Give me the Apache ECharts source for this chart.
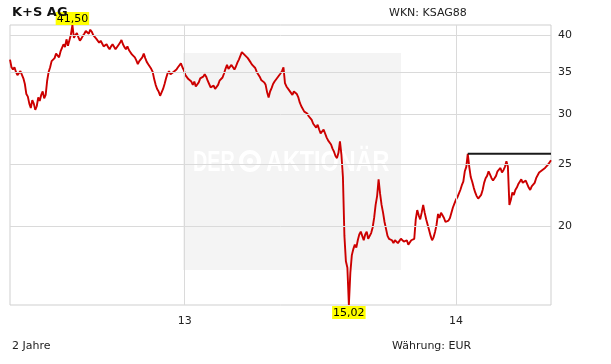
<!DOCTYPE html>
<html><head><meta charset="utf-8">
<script src="https://cdn.jsdelivr.net/npm/echarts@6/dist/echarts.min.js"></script>
<style>html,body{margin:0;padding:0;background:#fff}#c{width:611px;height:364px}</style>
</head><body><div id="c"></div>
<script>
const chartTitle = 'K+S AG';
const wknText = 'WKN: KSAG88';
const periodText = '2 Jahre';
const currencyText = 'Währung: EUR';
const startDate = [2012, 4, 11];
const stepDays = 2;
const prices = [
 36.6,35.6,35.3,35.6,35.0,34.6,34.7,35.1,34.9,34.2,33.5,32.3,32.0,31.2,30.7,31.6,31.2,30.5,30.9,31.9,
 31.5,32.2,32.6,31.8,32.2,33.9,35.0,35.6,36.4,36.2,36.8,37.4,37.2,36.9,37.7,38.2,38.7,38.3,39.4,38.5,
 38.7,40.1,41.5,39.6,40.0,40.3,39.7,39.2,39.5,39.9,40.2,40.6,40.8,40.2,40.8,40.5,40.0,39.8,39.5,39.3,
 38.9,39.2,38.8,38.4,38.5,38.7,38.3,38.0,38.4,38.7,38.5,38.0,38.0,38.6,38.9,39.3,38.7,38.3,38.0,38.4,
 37.9,37.6,37.3,37.5,36.9,36.5,36.0,36.4,36.6,36.9,37.4,36.8,36.3,36.0,35.7,35.4,35.0,34.1,33.4,32.9,
 32.6,32.1,32.2,32.9,33.5,34.2,34.8,35.1,34.7,34.9,35.0,34.8,35.3,35.6,35.8,36.1,35.6,35.2,34.6,34.4,
 34.1,34.3,33.8,33.4,33.8,33.2,33.0,33.7,34.2,34.0,34.4,34.7,34.4,33.9,33.5,33.1,32.9,33.3,32.9,33.1,
 33.4,33.9,33.8,34.3,34.8,35.4,35.9,35.4,35.6,35.9,35.7,35.3,35.7,36.2,36.6,37.1,37.6,37.8,37.2,37.3,
 36.8,36.5,36.2,35.9,35.7,35.5,35.0,34.8,34.4,34.0,33.9,33.7,33.4,32.5,31.9,32.6,33.0,33.5,33.8,33.9,
 34.3,34.5,34.8,35.1,35.6,33.6,33.2,33.0,32.7,32.5,32.2,32.6,32.7,32.3,31.9,31.3,30.9,30.7,30.3,30.4,
 30.1,29.8,29.6,29.4,29.0,28.8,28.6,28.9,28.4,28.0,27.9,28.4,28.2,27.6,27.3,27.2,26.9,26.5,26.2,25.8,
 25.6,26.1,27.2,25.9,23.9,19.3,17.6,17.2,15.02,16.9,18.0,18.4,18.7,18.5,19.0,19.4,19.6,19.3,19.0,19.4,
 19.6,19.1,19.0,19.5,19.9,20.6,21.6,22.3,23.7,22.5,21.6,21.0,20.3,19.8,19.3,19.1,19.0,19.0,18.8,19.0,
 19.1,18.8,18.9,19.1,19.0,18.9,18.8,19.0,18.7,18.8,19.0,18.9,19.1,20.5,21.2,20.8,20.5,21.0,21.6,21.0,
 20.5,20.1,19.7,19.3,19.0,19.2,19.6,20.1,20.9,20.6,21.0,20.8,20.6,20.3,20.2,20.4,20.6,21.0,21.4,21.7,
 22.0,22.2,22.5,22.8,23.2,23.5,24.4,24.8,26.0,24.8,23.9,23.5,23.0,22.6,22.3,22.1,22.0,22.4,22.8,23.4,
 23.8,24.0,24.4,24.1,23.8,23.6,23.8,24.0,24.4,24.5,24.7,24.3,24.5,24.8,25.3,24.8,21.6,22.0,22.6,22.4,
 22.8,23.0,23.3,23.5,23.7,23.4,23.3,23.6,23.3,23.0,22.8,23.1,23.2,23.4,23.8,23.9,24.3,24.4,24.5,24.5,
 24.7,24.6,25.0,25.2,25.4
];
const yTicks = [20, 25, 30, 35, 40];
const yearTicks = [{ date: [2013, 0, 1], label: '13' }, { date: [2014, 0, 1], label: '14' }];
const resistanceLevel = 26.0;
const resistanceStartIndex = 308;

const DAY = 86400000;
const t0 = new Date(startDate[0], startDate[1], startDate[2]).getTime();
const dates = prices.map((_, i) => t0 + i * stepDays * DAY);
const lineData = prices.map((v, i) => [dates[i], v]);
const yMin = Math.min(...prices), yMax = Math.max(...prices);
const fmt = v => v.toFixed(2).replace('.', ',');
const FONT = 'DejaVu Sans';

const chart = echarts.init(document.getElementById('c'), null, { renderer: 'canvas' });
chart.setOption({
  animation: false,
  backgroundColor: '#fff',
  grid: { left: 10, right: 60, top: 25, bottom: 59, show: true, borderColor: '#cfcfcf', borderWidth: 1, backgroundColor: 'transparent' },
  xAxis: { type: 'time', min: dates[0], max: dates[dates.length - 1],
    axisLabel: { show: false }, axisTick: { show: false }, axisLine: { show: false }, splitLine: { show: false } },
  yAxis: { type: 'log', logBase: 10, min: yMin, max: yMax,
    axisLabel: { show: false }, axisTick: { show: false }, axisLine: { show: false }, splitLine: { show: false } },
  graphic: [
    { type: 'rect', z: 1, silent: true, shape: { x: 183, y: 53, width: 218, height: 217 }, style: { fill: '#f4f4f4' } },
    { type: 'text', z: 1, silent: true, x: 193, y: 148, scaleX: 0.66, style: { text: 'DER', font: 'bold 30px "Liberation Sans"', fill: '#ffffff' } },
    { type: 'circle', z: 1, silent: true, shape: { cx: 250, cy: 161, r: 9 }, style: { fill: 'none', stroke: '#ffffff', lineWidth: 4 } },
    { type: 'circle', z: 1, silent: true, shape: { cx: 250, cy: 161, r: 3 }, style: { fill: '#ffffff' } },
    { type: 'text', z: 1, silent: true, x: 266, y: 148, scaleX: 0.78, style: { text: 'AKTIONÄR', font: 'bold 30px "Liberation Sans"', fill: '#ffffff' } },
    { type: 'text', z: 10, x: 12, y: 6, style: { text: chartTitle, font: 'bold 13px "DejaVu Sans"', fill: '#111' } },
    { type: 'text', z: 10, x: 389, y: 8, style: { text: wknText, font: '11px "DejaVu Sans"', fill: '#222' } },
    { type: 'text', z: 10, x: 12, y: 341, style: { text: periodText, font: '11px "DejaVu Sans"', fill: '#222' } },
    { type: 'text', z: 10, x: 392, y: 341, style: { text: currencyText, font: '11px "DejaVu Sans"', fill: '#222' } }
  ],
  series: [
    {
      type: 'line', z: 2, data: [], silent: true,
      markLine: {
        silent: true, symbol: ['none', 'none'], animation: false,
        lineStyle: { color: '#dadada', width: 1, type: 'solid' },
        data: [
          ...yTicks.map(v => ({ yAxis: v, label: { show: true, position: 'end', distance: 7, formatter: String(v), color: '#222', fontSize: 11, fontFamily: FONT } })),
          ...yearTicks.map(t => ({ xAxis: new Date(t.date[0], t.date[1], t.date[2]).getTime(), label: { show: true, position: 'start', distance: 11, formatter: t.label, color: '#222', fontSize: 11, fontFamily: FONT } }))
        ]
      }
    },
    {
      type: 'line', z: 3, data: lineData, symbol: 'none', silent: true,
      lineStyle: { color: '#cc0000', width: 1.9 },
      markPoint: {
        symbol: 'rect', symbolSize: 0, silent: true,
        label: { show: true, color: '#000', backgroundColor: '#ffff00', fontSize: 11, fontFamily: FONT, padding: [2, 1, 0, 1], formatter: p => fmt(p.value) },
        data: [
          { type: 'max', label: { position: 'top', distance: 0 } },
          { type: 'min', label: { position: 'bottom', distance: 1 } }
        ]
      }
    },
    {
      type: 'line', z: 4, symbol: 'none', silent: true,
      data: [[dates[resistanceStartIndex], resistanceLevel], [dates[dates.length - 1], resistanceLevel]],
      lineStyle: { color: '#1a1a1a', width: 2 }
    }
  ]
});
</script>
</body></html>
